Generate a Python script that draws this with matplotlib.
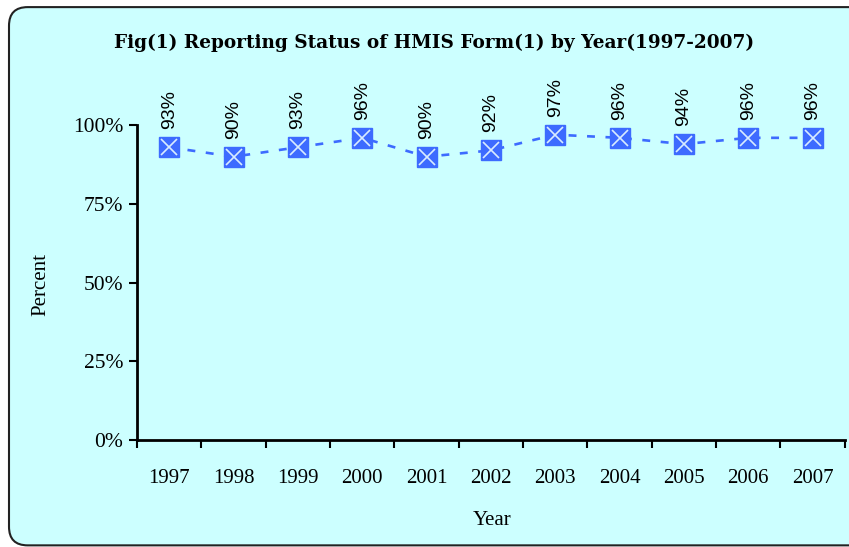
import matplotlib.pyplot as plt
from matplotlib.patches import FancyBboxPatch

years = ['1997', '1998', '1999', '2000', '2001', '2002', '2003', '2004', '2005', '2006', '2007']
percent = [93, 90, 93, 96, 90, 92, 97, 96, 94, 96, 96]
yticks = [0, 25, 50, 75, 100]
ytick_labels = ['0%', '25%', '50%', '75%', '100%']

bg = '#CCFFFF'
blue = '#3D6BFF'

fig = plt.figure(figsize=(8.49, 5.47), dpi=100)
fig.patch.set_facecolor('white')
# rounded frame around the chart (runs off the right edge like the original)
box = FancyBboxPatch((0.0106, 0.003), 1.2, 0.984, boxstyle='round,pad=0,rounding_size=0.022',
                     transform=fig.transFigure, facecolor=bg, edgecolor='#222222', linewidth=1.5,
                     mutation_aspect=849 / 547, zorder=-5)
fig.patches.append(box)

ax = fig.add_axes([0.1614, 0.1956, 0.8336, 0.633])
ax.patch.set_alpha(0)

x = list(range(len(years)))
ax.plot(x, percent, linestyle=(0, (3, 4)), color=blue, linewidth=1.9, zorder=2)
ax.plot(x, percent, linestyle='none', marker='s', markersize=15, color=blue,
        markeredgecolor=blue, zorder=3)
ax.plot(x, percent, linestyle='none', marker='x', markersize=11, markeredgewidth=1.2,
        color='#D8ECFF', zorder=4)

for xi, v in zip(x, percent):
    ax.annotate(f'{v}%', (xi, v), xytext=(0, 13), textcoords='offset points',
                rotation=90, ha='center', va='bottom', fontsize=14,
                family='Liberation Sans', color='black')

ax.set_xlim(-0.5, len(years) - 0.5)
ax.set_ylim(0, 110)
ax.set_xticks([i - 0.5 for i in range(len(years) + 1)])
ax.set_xticklabels([])
ax.set_xticks(x, minor=True)
ax.set_xticklabels(years, minor=True, family='Liberation Serif', fontsize=15)
ax.tick_params(axis='x', which='minor', length=0, pad=21)
ax.tick_params(axis='x', which='major', direction='out', length=6, width=1.5)
ax.set_yticks(yticks)
ax.set_yticklabels(ytick_labels, family='Liberation Serif', fontsize=15.5)
ax.tick_params(axis='y', direction='out', length=6, width=1.5, pad=4)

for s in ['top', 'right']:
    ax.spines[s].set_visible(False)
for s in ['left', 'bottom']:
    ax.spines[s].set_linewidth(2)
ax.spines['left'].set_bounds(0, 100)

ax.set_ylabel('Percent', family='Liberation Serif', fontsize=15)
ax.yaxis.set_label_coords(-0.123, 0.45)
fig.text(0.58, 0.049, 'Year', family='Liberation Serif', fontsize=15, ha='center', va='center')
fig.text(0.511, 0.921, 'Fig(1) Reporting Status of HMIS Form(1) by Year(1997-2007)',
         family='DejaVu Serif', fontweight='bold', fontsize=13.3, ha='center', va='center')

fig.savefig('out.png', dpi=100, facecolor=fig.get_facecolor())
